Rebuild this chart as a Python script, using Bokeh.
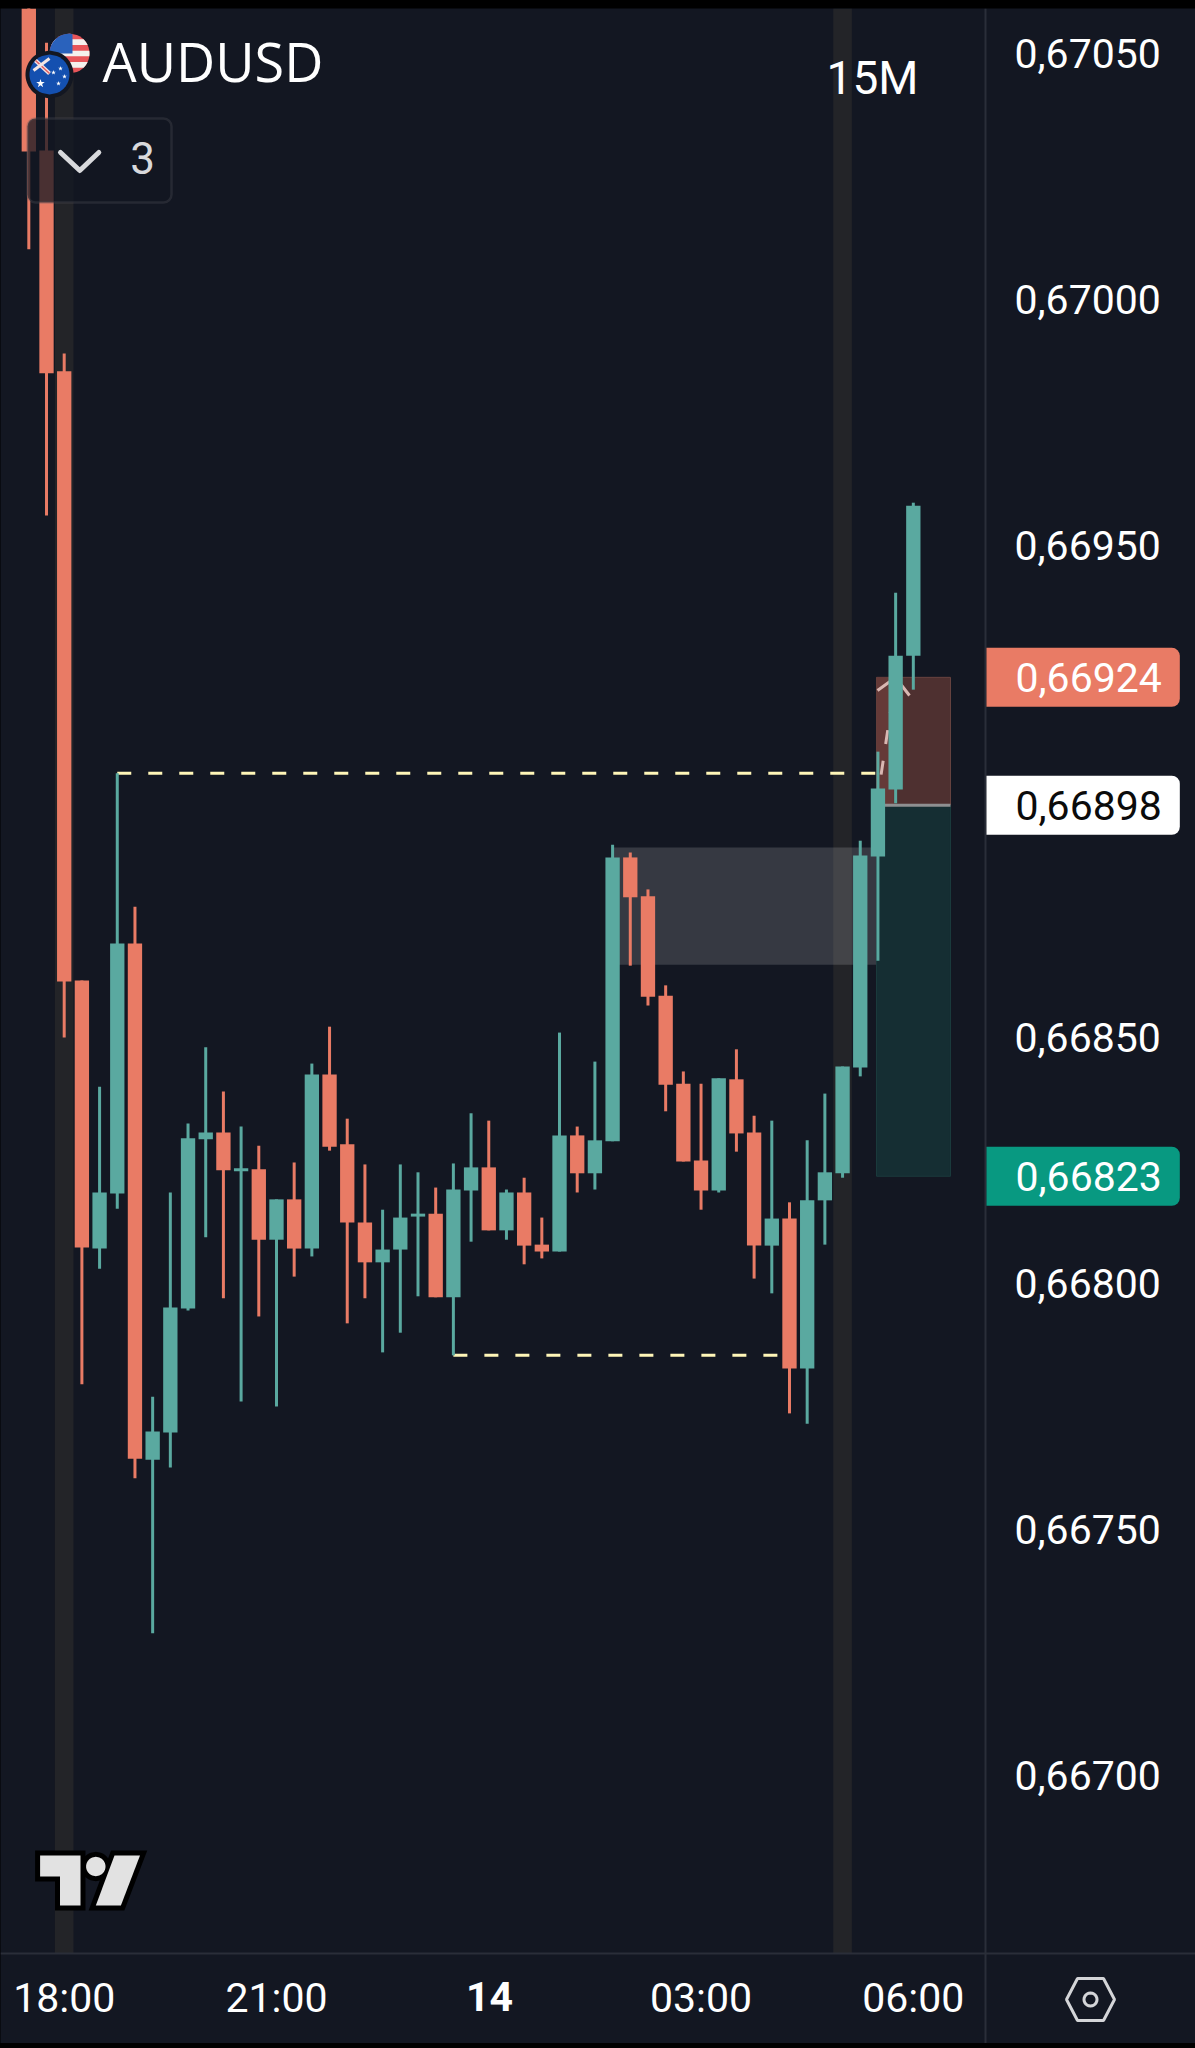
import numpy as np
from bokeh.plotting import figure
from bokeh.embed import file_html
from bokeh.resources import INLINE
from bokeh.models import Range1d, FixedTicker, Label, BoxAnnotation, PolyAnnotation

# ---------- data ----------
first_bar = -2   # bar index relative to the 18:00 candle; one bar = 15 minutes
opens = [0.670648,0.670303,0.669854,0.668616,0.668071,0.668183,0.668691,0.667642,0.667697,0.667949,
         0.668293,0.668307,0.668228,0.668232,0.668089,0.668171,0.668071,0.668425,0.668283,0.668124,
         0.668043,0.668069,0.668136,0.668142,0.667972,0.668189,0.668236,0.668108,0.668185,0.668079,
         0.668065,0.668301,0.668224,0.668289,0.668866,0.668787,0.668585,0.668406,0.668250,0.668189,
         0.668415,0.668307,0.668077,0.668132,0.667827,0.668169,0.668224,0.668439,0.668868,0.669004,0.669276]
highs = [0.670689,0.670522,0.669890,0.668616,0.668400,0.669037,0.668766,0.667770,0.668185,0.668325,
         0.668480,0.668390,0.668319,0.668280,0.668171,0.668246,0.668447,0.668522,0.668335,0.668242,
         0.668150,0.668242,0.668226,0.668195,0.668244,0.668346,0.668331,0.668191,0.668215,0.668134,
         0.668510,0.668319,0.668451,0.668892,0.668876,0.668801,0.668606,0.668431,0.668406,0.668417,
         0.668476,0.668341,0.668331,0.668165,0.668291,0.668386,0.668441,0.668900,0.669081,0.669404,0.669587]
lows  = [0.670102,0.669561,0.668500,0.667795,0.668030,0.668152,0.667604,0.667289,0.667626,0.667945,
         0.668094,0.667970,0.667760,0.667933,0.667750,0.668014,0.668055,0.668270,0.667919,0.667970,
         0.667860,0.667900,0.667974,0.667972,0.667854,0.668085,0.668108,0.668089,0.668039,0.668051,
         0.668065,0.668185,0.668191,0.668289,0.668646,0.668565,0.668350,0.668248,0.668150,0.668185,
         0.668268,0.668010,0.667980,0.667736,0.667715,0.668079,0.668215,0.668421,0.668656,0.668976,0.669207]
closes= [0.670301,0.669850,0.668614,0.668073,0.668185,0.668691,0.667644,0.667699,0.667951,0.668295,
         0.668307,0.668230,0.668234,0.668089,0.668171,0.668071,0.668425,0.668278,0.668124,0.668043,
         0.668069,0.668134,0.668142,0.667972,0.668191,0.668236,0.668108,0.668185,0.668077,0.668065,
         0.668301,0.668224,0.668291,0.668866,0.668785,0.668583,0.668404,0.668248,0.668189,0.668417,
         0.668305,0.668077,0.668132,0.667827,0.668169,0.668226,0.668441,0.668870,0.669006,0.669276,0.669581]

price_ticks  = [0.6670, 0.6675, 0.6680, 0.6685, 0.6695, 0.6700, 0.6705]
price_labels = ["0,66700", "0,66750", "0,66800", "0,66850", "0,66950", "0,67000", "0,67050"]
time_ticks   = [0, 12, 36, 48]
time_labels  = ["18:00", "21:00", "03:00", "06:00"]
day_tick, day_label = 24, "14"
session_bars = [0, 44]

sl_price, entry_price, tp_price = 0.669232, 0.668972, 0.668218
sl_text, entry_text, tp_text = "0,66924", "0,66898", "0,66823"
pos_left, pos_right = 45.92, 50.1
upper_level, upper_from, upper_to = 0.669037, 3, 46
lower_level, lower_from, lower_to = 0.667854, 22, 41
gap_top, gap_bottom, gap_from, gap_to = 0.668886, 0.668648, 31, 46

BG, RED, TEAL = "#131722", "#E97B65", "#5AA9A0"
GREY_LINE = "#2A2E39"

# pixel helpers for the interface decorations (flags, logo, button)
def xd(px):
    return (np.asarray(px, dtype=float) - 63.7) / 17.69
def yd(py):
    return 0.6705 - (np.asarray(py, dtype=float) - 53) / 492000
def pts(seq):
    return xd([a for a, _ in seq]).tolist(), yd([b for _, b in seq]).tolist()
def disc(cx, cy, r, y1=None, y2=None, x1=-1e9, x2=1e9):
    y1 = cy - r if y1 is None else max(y1, cy - r)
    y2 = cy + r if y2 is None else min(y2, cy + r)
    rows = np.linspace(y1, y2, 30)
    half = np.sqrt(np.maximum(r * r - (rows - cy) ** 2, 0))
    left = np.maximum(cx - half, x1)
    right = np.minimum(cx + half, x2)
    return (xd(np.concatenate([left, right[::-1]])).tolist(),
            yd(np.concatenate([rows, rows[::-1]])).tolist())

p = figure(width=1195, height=2035, output_backend="svg", toolbar_location=None,
           x_range=Range1d(float(xd(0)), float(xd(1195))),
           y_range=Range1d(float(yd(2043)), float(yd(8))),
           y_axis_location="right", min_border=0,
           background_fill_color=BG, border_fill_color=BG, outline_line_color=None)
p.grid.visible = False

# axes, pinned inside the pane so that the lines run across the whole picture
ya = p.yaxis[0]
ya.fixed_location = float(xd(985))
ya.ticker = FixedTicker(ticks=price_ticks)
ya.major_label_overrides = dict(zip(price_ticks, price_labels))
ya.major_tick_line_color = None
ya.minor_tick_line_color = None
ya.axis_line_color = GREY_LINE
ya.axis_line_width = 2
ya.major_label_standoff = 23
ya.major_label_text_color = "#FFFFFF"
ya.major_label_text_font = "Roboto"
ya.major_label_text_font_size = "41px"

xa = p.xaxis[0]
xa.fixed_location = float(yd(1953))
xa.ticker = FixedTicker(ticks=time_ticks)
xa.major_label_overrides = dict(zip(time_ticks, time_labels))
xa.major_tick_line_color = None
xa.minor_tick_line_color = None
xa.axis_line_color = GREY_LINE
xa.axis_line_width = 2
xa.major_label_standoff = 14
xa.major_label_text_color = "#FFFFFF"
xa.major_label_text_font = "Roboto"
xa.major_label_text_font_size = "41px"

# session strips
p.vbar(x=session_bars, width=1.05, bottom=float(yd(1953)), top=float(yd(8)),
       fill_color="#232428", line_color=None)

# gap box
p.quad(left=gap_from, right=gap_to, top=gap_top, bottom=gap_bottom,
       fill_color="#FFFFFF", fill_alpha=0.15, line_color=None)

# position tool
p.quad(left=pos_left, right=pos_right, top=sl_price, bottom=entry_price,
       fill_color="#4E3030", line_color="#674340", line_width=1)
p.quad(left=pos_left, right=46.9, top=sl_price, bottom=entry_price,
       fill_color="#653A38", line_color=None)
p.quad(left=pos_left, right=pos_right, top=entry_price, bottom=tp_price,
       fill_color="#152E33", line_color="#1B3B3D", line_width=1)
p.line([pos_left, pos_right], [entry_price, entry_price], line_color="#8E8F91", line_width=3)

# level lines
p.line([upper_from, upper_to], [upper_level, upper_level], line_color="#FFF6B8", line_width=3, line_dash="14 17")
p.line([lower_from, lower_to], [lower_level, lower_level], line_color="#FFF6B8", line_width=3, line_dash="14 17")

# arrow of the position tool
p.line([pos_left, 47.0], [entry_price, sl_price], line_color="#D9B7B2", line_width=3, line_dash="14 17")
arrow_x, arrow_y = pts([(877, 690), (895, 677), (909, 695)])
p.line(arrow_x, arrow_y, line_color="#D9B7B2", line_width=3)

# candles
bars = np.arange(first_bar, first_bar + len(closes))
o, h, l, c = map(np.array, (opens, highs, lows, closes))
colors = [TEAL if cc > oo else RED for oo, cc in zip(o, c)]
p.segment(bars, h, bars, l, line_color=colors, line_width=3)
p.vbar(bars, width=0.81, top=np.maximum(o, c), bottom=np.minimum(o, c),
       fill_color=colors, line_color=None)

# flags
polys_x, polys_y, polys_c = [], [], []
def add(poly, col):
    polys_x.append(poly[0]); polys_y.append(poly[1]); polys_c.append(col)
ux, uy, ur = 69, 53, 20
add(disc(ux, uy, ur), "#E8555A")
for k in range(1, 7, 2):
    add(disc(ux, uy, ur, y1=33 + k * 40 / 7, y2=33 + (k + 1) * 40 / 7), "#F4F1EE")
add(disc(ux, uy, ur, y2=53, x2=72), "#2A62BC")
add(disc(49, 74, 24), BG)
add(disc(49, 74, 20), "#1450B0")
p.patches(polys_x, polys_y, fill_color=polys_c, line_color=None)
ax, ay = pts([(35, 60), (49, 73)])
p.line(ax, ay, line_color="#F4E6E4", line_width=4)
p.line(ax, ay, line_color="#E05C60", line_width=1.5)
ax, ay = pts([(49, 58), (33, 70)])
p.line(ax, ay, line_color="#F4E6E4", line_width=3)
sx, sy = pts([(53, 72), (60, 68), (64, 76), (58, 83)])
p.scatter(sx, sy, marker="star", size=5, fill_color="#FFFFFF", line_color=None)
sx, sy = pts([(40, 83)])
p.scatter(sx, sy, marker="star", size=9, fill_color="#FFFFFF", line_color=None)

# logo
logo_t = pts([(39.6, 1855), (80, 1855), (80, 1905), (59.5, 1905), (59.5, 1876), (39.6, 1876)])
logo_s = pts([(114, 1855), (139.5, 1855), (120.4, 1905), (95.3, 1905)])
logo_c = disc(95.3, 1866, 9.7)
lx, ly = [logo_t[0], logo_s[0], logo_c[0]], [logo_t[1], logo_s[1], logo_c[1]]
p.patches(lx, ly, fill_color="#000000", line_color="#000000", line_width=10, line_join="miter")
p.patches(lx, ly, fill_color="#E2E2E2", line_color=None)

# button
p.add_layout(BoxAnnotation(left=float(xd(27)), right=float(xd(171)), top=float(yd(118)), bottom=float(yd(202)),
                           fill_color=BG, fill_alpha=0.75, line_color="#55575C", line_width=2.5, border_radius=8))
cx_, cy_ = pts([(60, 152), (79.3, 170), (98.3, 152)])
p.line(cx_, cy_, line_color="#D8D9DC", line_width=5, level="overlay", line_cap="round", line_join="round")

def text(txt, px, py, size, color="#FFFFFF", align="left", font="Roboto", style="normal"):
    p.add_layout(Label(x=float(xd(px)), y=float(yd(py)), text=txt, text_color=color, text_font=font,
                       text_font_size=f"{size}px", text_align=align, text_baseline="middle",
                       text_font_style=style, level="overlay"))

text("AUDUSD", 102, 60, 54, font="Open Sans")
text("15M", 872, 77, 46, align="center")
text("3", 142, 157, 44, color="#D8D9DC", align="center")
text(day_label, 489, 1996, 41, align="center", style="bold")

# price tags: padding is left, right, top, bottom
def tag(txt, price, fill, color):
    p.add_layout(Label(x=float(xd(986)), y=price, text=txt, text_color=color, text_font="Roboto",
                       text_font_size="41px", text_align="left", text_baseline="middle",
                       background_fill_color=fill, padding=(29, 18, 15, 15),
                       border_radius=(0, 8, 8, 0), level="overlay"))
tag(sl_text, sl_price, RED, "#FFFFFF")
tag(entry_text, entry_price, "#FFFFFF", "#0B0B0B")
tag(tp_text, tp_price, "#089981", "#FFFFFF")

# settings icon
hx, hy = pts([(1066, 1999), (1077, 1978), (1103, 1978), (1114, 1999), (1103, 2020), (1077, 2020)])
p.add_layout(PolyAnnotation(xs=hx, ys=hy, fill_alpha=0, line_color="#D4D5D8", line_alpha=1, line_width=3))
ang = np.linspace(0, 2 * np.pi, 25)
rx, ry = pts(list(zip(1090 + 6.5 * np.cos(ang), 1999 + 6.5 * np.sin(ang))))
p.add_layout(PolyAnnotation(xs=rx, ys=ry, fill_alpha=0, line_color="#D4D5D8", line_alpha=1, line_width=3))

html = file_html(p, INLINE)
html = html.replace("</head>", "<style>html,body{margin:0!important;padding:0!important;background:#000!important}body{padding-top:8px!important}</style></head>", 1)
open("out.html", "w").write(html)
